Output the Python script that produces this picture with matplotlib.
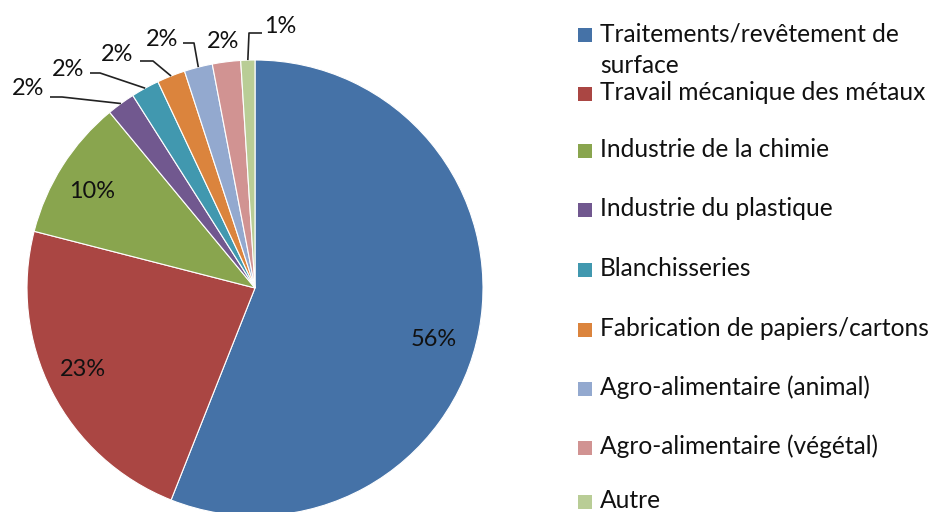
import matplotlib
matplotlib.use("Agg")
import matplotlib.pyplot as plt
from matplotlib.patches import Rectangle
import numpy as np

categories = [
    "Traitements/revêtement de\nsurface",
    "Travail mécanique des métaux",
    "Industrie de la chimie",
    "Industrie du plastique",
    "Blanchisseries",
    "Fabrication de papiers/cartons",
    "Agro-alimentaire (animal)",
    "Agro-alimentaire (végétal)",
    "Autre",
]
values = [56, 23, 10, 2, 2, 2, 2, 2, 1]
colors = ["#4572A7", "#AA4643", "#89A54E", "#71588F", "#4198AF",
          "#DB843D", "#93A9CF", "#D19392", "#B9CD96"]

W, H = 929, 512
FONT = "Lato"
TXT = "#111111"
fig = plt.figure(figsize=(W / 100, H / 100), dpi=100)
ax = fig.add_axes([0, 0, 1, 1])

def Y(y):
    return H - y

cx, cy, R = 255, 288, 228
wedges, _ = ax.pie(values, colors=colors, startangle=90, counterclock=False,
                   center=(cx, Y(cy)), radius=R,
                   wedgeprops=dict(edgecolor="white", linewidth=0.8))
ax.set_xlim(0, W)
ax.set_ylim(0, H)
ax.set_aspect("equal")
ax.axis("off")

renderer = fig.canvas.get_renderer()

def fit_size(text, target_px, base=12):
    t = fig.text(0, 0, text, fontsize=base, family=FONT)
    w = t.get_window_extent(renderer=renderer).width
    t.remove()
    return base * target_px / w

lab_fs = fit_size("56%", 46)
leg_fs = fit_size("Fabrication de papiers/cartons", 328)

# label positions (pixel centers) and leader line points (label side, elbow)
label_pos = [(434, 339), (83, 370), (92, 192), (28, 88), (68, 69),
             (117, 54), (162, 39), (223, 41), (280, 26)]
leaders = [None, None, None,
           [(50, 97), (62, 97)],
           [(90, 73), (100, 73)],
           [(140, 61), (153, 61)],
           [(183, 43), (194, 43)],
           None,
           [(262, 33), (249, 33)]]

for w, v, (lx, ly), ld in zip(wedges, values, label_pos, leaders):
    ax.text(lx, Y(ly), f"{v}%", ha="center", va="center",
            fontsize=lab_fs, family=FONT, color=TXT)
    if ld is not None:
        mid = np.deg2rad((w.theta1 + w.theta2) / 2)
        ex = cx + R * np.cos(mid)
        ey = Y(cy) + R * np.sin(mid)
        xs = [ld[0][0], ld[1][0], ex]
        ys = [Y(ld[0][1]), Y(ld[1][1]), ey]
        ax.plot(xs, ys, color="#222222", linewidth=1.2, solid_capstyle="butt")

# legend
baselines = [41, 100, 157, 216, 276, 336, 395, 454, 508]
for name, col, b in zip(categories, colors, baselines):
    ax.add_patch(Rectangle((578, Y(b + 1)), 14, 14, facecolor=col,
                           edgecolor="none"))
    lines = name.split("\n")
    for i, ln in enumerate(lines):
        ax.text(600, Y(b + 32 * i), ln, ha="left", va="baseline",
                fontsize=leg_fs, family=FONT, color=TXT)

fig.savefig("out.png", dpi=100)
